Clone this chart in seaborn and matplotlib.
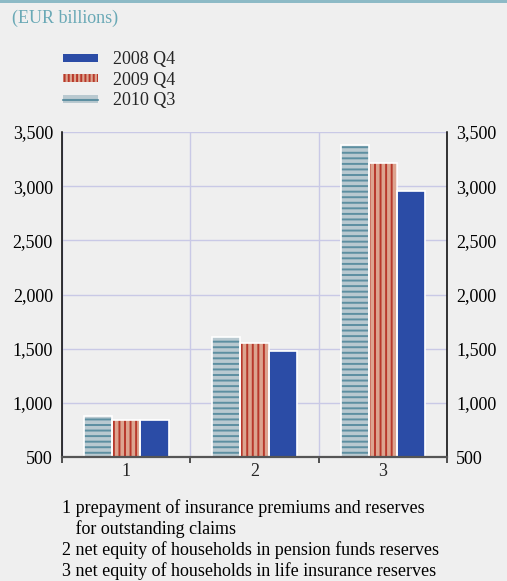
import numpy as np
import pandas as pd
import matplotlib
matplotlib.use("Agg")
import matplotlib.pyplot as plt
import seaborn as sns
from matplotlib.patches import Patch, Rectangle
from matplotlib.lines import Line2D

# data (EUR billions)
categories = ["1", "2", "3"]
series_names = ["2010 Q3", "2009 Q4", "2008 Q4"]
v_2010q3 = [875, 1605, 3380]
v_2009q4 = [842, 1552, 3212]
v_2008q4 = [838, 1478, 2955]
yticks = [500, 1000, 1500, 2000, 2500, 3000, 3500]
notes = [
    "1 prepayment of insurance premiums and reserves",
    "   for outstanding claims",
    "2 net equity of households in pension funds reserves",
    "3 net equity of households in life insurance reserves",
]

bg = "#efefef"
blue = "#2b4ca6"
red_fill, red_hatch = "#dca48f", "#b8382b"
teal_fill, teal_hatch = "#b9c9d0", "#5d8fa1"
grid_col = "#c9c9e6"
fs = 13

df = pd.DataFrame({
    "cat": categories * 3,
    "series": np.repeat(series_names, 3),
    "value": v_2010q3 + v_2009q4 + v_2008q4,
})

sns.set_theme(style="white")
plt.rcParams["font.family"] = ["Liberation Serif", "DejaVu Serif"]
plt.rcParams["hatch.linewidth"] = 1.4

fig = plt.figure(figsize=(5.07, 5.81), dpi=100, facecolor=bg)
ax = fig.add_axes([0.1223, 0.2134, 0.7594, 0.5594], facecolor=bg)

palette = {"2010 Q3": teal_fill, "2009 Q4": red_fill, "2008 Q4": blue}
sns.barplot(data=df, x="cat", y="value", hue="series", hue_order=series_names,
            palette=palette, width=0.66, saturation=1, ax=ax, legend=False,
            linewidth=0, zorder=3)

styles = {
    "2010 Q3": ("---", teal_hatch),
    "2009 Q4": ("|||", red_hatch),
    "2008 Q4": ("", blue),
}
for name, cont in zip(series_names, ax.containers):
    hatch, hc = styles[name]
    for bar in cont:
        bar.set_hatch(hatch)
        bar.set_edgecolor(hc)
        bar.set_linewidth(0)
        ax.add_patch(Rectangle(bar.get_xy(), bar.get_width(), bar.get_height(),
                               fill=False, edgecolor="white", lw=1.2, zorder=4))

ax.set_ylim(500, 3500)
ax.set_xlim(-0.5, 2.5)
ax.set_yticks(yticks)
ax.set_yticklabels([f"{t:,}" for t in yticks])
ax.set_xlabel("")
ax.set_ylabel("")

ax.set_xticks([-0.5, 0.5, 1.5, 2.5], minor=True)
ax.grid(axis="y", which="major", color=grid_col, lw=1, zorder=0)
ax.grid(axis="x", which="minor", color=grid_col, lw=1, zorder=0)
ax.grid(axis="x", which="major", visible=False)

for s in ["left", "right"]:
    ax.spines[s].set_color("black")
    ax.spines[s].set_linewidth(1.1)
ax.spines["top"].set_visible(False)
ax.spines["bottom"].set_color("#555555")
ax.spines["bottom"].set_linewidth(1.6)
ax.spines["bottom"].set_zorder(5)

ax.tick_params(axis="y", which="major", left=False, right=False, labelleft=True,
               labelright=True, length=0, labelsize=fs, colors="black", pad=6.5)
ax.tick_params(axis="x", which="major", length=0, labelsize=fs, pad=4)
ax.tick_params(axis="x", which="minor", bottom=True, direction="out",
               length=4, width=1.2, color="#333333")

# top decorative rule
fig.add_artist(Rectangle((0, 1 - 3 / 581), 1, 3 / 581, transform=fig.transFigure,
                         facecolor="#8dbac6", edgecolor="none"))
fig.text(12 / 507, 1 - 18 / 581, "(EUR billions)", color="#6aa9b6",
         fontsize=fs, va="center")

handles = [
    Patch(facecolor=blue, edgecolor=blue, linewidth=0),
    Patch(facecolor=red_fill, edgecolor=red_hatch, hatch="||||", linewidth=0),
    (Patch(facecolor=teal_fill, edgecolor=teal_fill, linewidth=0),
     Line2D([], [], color=teal_hatch, lw=1.5)),
]
fig.legend(handles, ["2008 Q4", "2009 Q4", "2010 Q3"], loc="upper left",
           bbox_to_anchor=(56 / 507, 1 - 44 / 581), frameon=False,
           fontsize=fs, handlelength=1.9, handleheight=0.33,
           labelspacing=0.2, handletextpad=0.85, borderaxespad=0)

for i, line in enumerate(notes):
    fig.text(62 / 507, 1 - (508 + i * 21) / 581, line, fontsize=fs,
             va="center", color="black")

fig.savefig("out.png", dpi=100, facecolor=bg)
